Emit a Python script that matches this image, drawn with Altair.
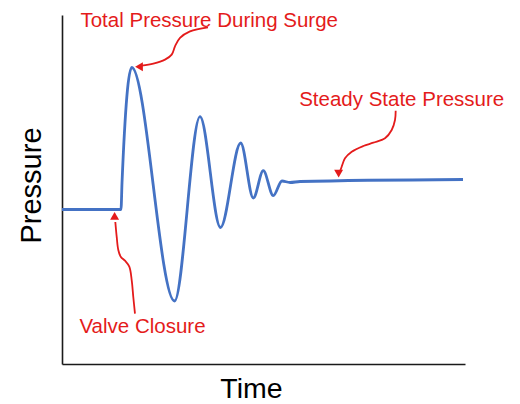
import altair as alt
import pandas as pd

# ---- data (time / pressure in arbitrary units) ----
trace_t = [0.0, 14.64, 14.89, 17.30, 27.92, 34.24, 39.33, 44.34, 47.47, 49.95, 52.43, 54.59, 56.58, 59.06, 99.50]
trace_p = [44.27, 44.27, 51.86, 84.96, 18.05, 70.86, 39.11, 63.32, 47.56, 55.39, 48.22, 52.44, 52.01, 52.29, 52.87]

labels = ["Total Pressure During Surge", "Steady State Pressure", "Valve Closure"]
label_t = [36.53, 84.29, 19.98]
label_p = [96.5, 74.01, 8.83]

# annotation arrows (paths in data units)
surge_arrow_t = [36.23, 31.76, 29.28, 28.04, 27.22, 25.56, 22.66, 19.77]
surge_arrow_p = [96.48, 95.33, 93.44, 91.03, 88.65, 87.22, 86.07, 85.50]
steady_arrow_t = [82.80, 82.63, 81.81, 80.15, 77.25, 74.77, 71.89, 70.22, 69.40, 69.06]
steady_arrow_p = [72.58, 69.91, 67.05, 64.67, 63.41, 62.46, 60.83, 58.94, 56.53, 55.44]
valve_arrow_t = [18.11, 17.69, 17.30, 16.70, 15.63, 14.57, 13.97, 13.57, 13.23]
valve_arrow_p = [14.44, 19.20, 23.98, 27.88, 29.60, 30.75, 32.66, 36.48, 40.69]

head_t = [19.11, 68.64, 13.05]
head_p = [85.16, 54.58, 42.41]
head_shape = ["triangle-left", "triangle-down", "triangle-up"]

RED = "#E41B1B"
BLUE = "#4472C4"
FONT = "Liberation Sans, Arial, sans-serif"

trace = pd.DataFrame({"t": trace_t, "p": trace_p, "i": range(len(trace_t))})
lab = pd.DataFrame({"t": label_t, "p": label_p, "text": labels})
rows = []
for name, ts, ps in [("surge", surge_arrow_t, surge_arrow_p),
                     ("steady", steady_arrow_t, steady_arrow_p),
                     ("valve", valve_arrow_t, valve_arrow_p)]:
    for k, (a, b) in enumerate(zip(ts, ps)):
        rows.append({"id": name, "k": k, "t": a, "p": b})
arrows = pd.DataFrame(rows)
heads = pd.DataFrame({"t": head_t, "p": head_p, "shape": head_shape})

xs = alt.Scale(domain=[0, 100], nice=False, zero=False)
ys = alt.Scale(domain=[0, 100], nice=False, zero=False)

x_axis = alt.Axis(title="Time", labels=False, ticks=False, grid=False,
                  domainColor="#1a1a1a", domainWidth=1.6,
                  titleFont=FONT, titleFontSize=28.5, titleFontWeight="normal",
                  titleColor="#000000", titleX=189, titleY=33,
                  titleBaseline="alphabetic", titleAlign="center")
y_axis = alt.Axis(title="Pressure", labels=False, ticks=False, grid=False,
                  domainColor="#1a1a1a", domainWidth=1.6,
                  titleFont=FONT, titleFontSize=29, titleFontWeight="normal",
                  titleColor="#000000", titleAngle=270, titleX=-21.6, titleY=170,
                  titleBaseline="alphabetic", titleAlign="center")

line = alt.Chart(trace).mark_line(color=BLUE, strokeWidth=2.8, interpolate="monotone").encode(
    x=alt.X("t:Q", scale=xs, axis=x_axis),
    y=alt.Y("p:Q", scale=ys, axis=y_axis),
    order="i:Q",
)

arrow_lines = alt.Chart(arrows).mark_line(color=RED, strokeWidth=1.8, interpolate="catmull-rom").encode(
    x=alt.X("t:Q", scale=xs),
    y=alt.Y("p:Q", scale=ys),
    detail="id:N",
    order="k:Q",
)

arrow_heads = alt.Chart(heads).mark_point(filled=True, opacity=1, size=80, color=RED).encode(
    x=alt.X("t:Q", scale=xs),
    y=alt.Y("p:Q", scale=ys),
    shape=alt.Shape("shape:N", scale=None),
)

texts = alt.Chart(lab).mark_text(color=RED, font=FONT, fontSize=20.5, align="center",
                                 baseline="alphabetic").encode(
    x=alt.X("t:Q", scale=xs),
    y=alt.Y("p:Q", scale=ys),
    text="text:N",
)

chart = alt.layer(line, arrow_lines, arrow_heads, texts).properties(
    width=403, height=349,
    autosize=alt.AutoSizeParams(type="none"),
    padding={"left": 54, "top": 7, "right": 47, "bottom": 41},
    background="white",
).configure_view(strokeWidth=0)

chart.save("out.html", embed_options={"renderer": "svg", "actions": False})
